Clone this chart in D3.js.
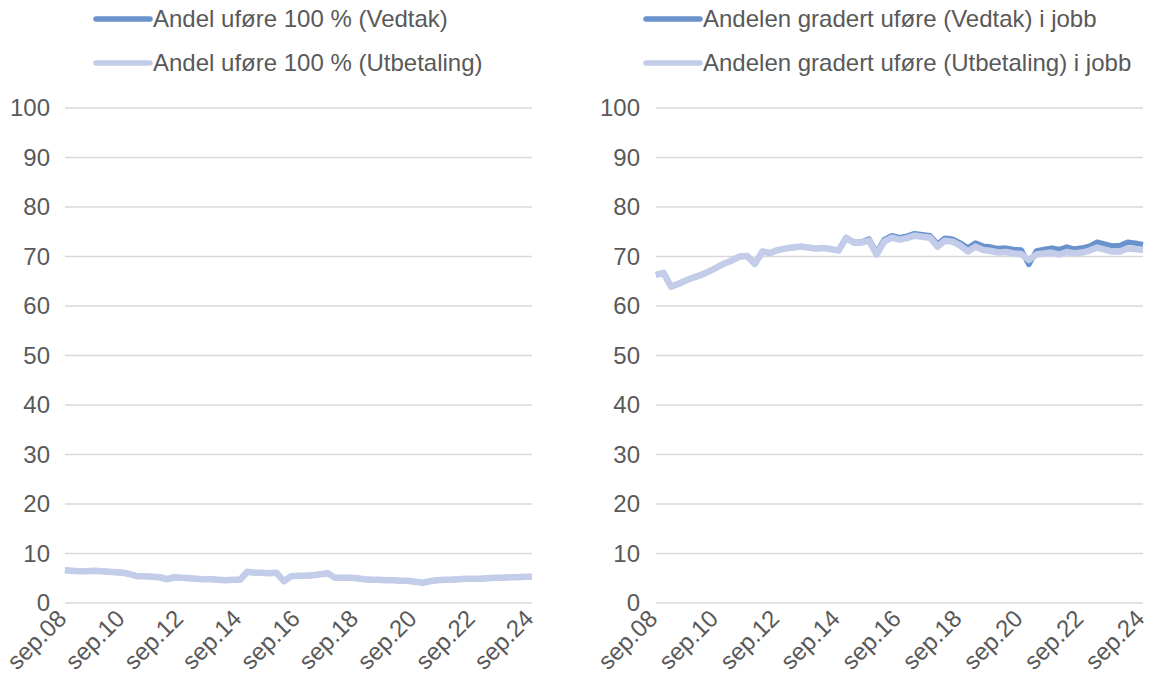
<!DOCTYPE html>
<html><head><meta charset="utf-8">
<script src="https://cdn.jsdelivr.net/npm/d3@7"></script>
<style>body{margin:0;background:#fff}svg{display:block}text{font-family:"Liberation Sans",Arial,sans-serif;fill:#595959}</style>
</head><body><svg id="c" width="1149" height="684"></svg>
<script>
// quarterly observations, sep.08 .. sep.24
const startDate = new Date(2008, 8, 1);
const endDate = new Date(2024, 8, 1);
const tickLabels = ["sep.08","sep.10","sep.12","sep.14","sep.16","sep.18","sep.20","sep.22","sep.24"];
const yTicks = [0,10,20,30,40,50,60,70,80,90,100];

const leftNames = ["Andel uføre 100 % (Vedtak)", "Andel uføre 100 % (Utbetaling)"];
const rightNames = ["Andelen gradert uføre (Vedtak) i jobb", "Andelen gradert uføre (Utbetaling) i jobb"];

const leftVedtak = [6.6,6.5, 6.4,6.4,6.5,6.4, 6.3,6.2,6.1,5.8, 5.4,5.4,5.3,5.2, 4.8,5.2,5.1,5.0,
  4.9,4.8,4.8,4.7, 4.6,4.7,4.7,6.3, 6.1,6.1,6.0,6.1, 4.4,5.4,5.5,5.5, 5.6,5.8,6.0,5.1,
  5.1,5.1,5.0,4.8, 4.7,4.7,4.6,4.6, 4.5,4.5,4.3,4.1, 4.4,4.6,4.7,4.7, 4.8,4.9,4.9,4.9,
  5.0,5.1,5.1,5.2, 5.2,5.3,5.3];
const leftUtbetaling = [6.6,6.5, 6.4,6.4,6.5,6.4, 6.3,6.2,6.1,5.8, 5.4,5.4,5.3,5.2, 4.8,5.2,5.1,5.0,
  4.9,4.8,4.8,4.7, 4.6,4.7,4.7,6.3, 6.1,6.1,6.0,6.1, 4.4,5.4,5.5,5.5, 5.6,5.8,6.0,5.1,
  5.1,5.1,5.0,4.8, 4.7,4.7,4.6,4.6, 4.5,4.5,4.3,4.1, 4.4,4.6,4.7,4.7, 4.8,4.9,4.9,4.9,
  5.0,5.1,5.1,5.2, 5.2,5.3,5.3];
const rightVedtak = [66.3,66.7, 63.9,64.5,65.2,65.8, 66.3,67.0,67.8,68.6, 69.2,70.0,70.1,68.5,
  71.0,70.7,71.3,71.6, 71.8,72.0,71.8,71.6, 71.7,71.5,71.2,73.8, 72.9,72.9,73.5,70.8,
  73.4,74.2,73.8,74.1, 74.6,74.4,74.2,72.5, 73.7,73.5,72.7,71.7, 72.7,72.1,71.9,71.6,
  71.7,71.4,71.3,68.4, 71.1,71.4,71.7,71.4, 71.9,71.5,71.7,72.1, 72.9,72.5,72.1,72.2,
  72.9,72.7,72.4];
const rightUtbetaling = [66.3,66.7, 63.9,64.5,65.2,65.8, 66.3,67.0,67.8,68.6, 69.2,70.0,70.1,68.5,
  71.0,70.7,71.3,71.6, 71.8,72.0,71.8,71.6, 71.7,71.5,71.2,73.8, 72.8,72.8,73.2,70.4,
  73.0,73.8,73.4,73.7, 74.2,74.0,73.8,72.0, 73.2,73.0,72.2,71.0, 72.0,71.3,71.1,70.8,
  70.9,70.6,70.5,69.3, 70.4,70.6,70.8,70.4, 70.9,70.6,70.8,71.2, 71.8,71.4,71.0,71.0,
  71.6,71.5,71.3];

const dates = d3.timeMonth.range(startDate, d3.timeMonth.offset(endDate, 1), 3);
const tickDates = d3.timeYear.every(2).range(new Date(2008,0,1), new Date(2025,0,1)).map(d => new Date(d.getFullYear(), 8, 1));

const colV = "#6A93CD", colU = "#C3CDEA";
const FS = 24;
const svg = d3.select("#c");

function panel(x0, x1, labelX, legX, names, vedtak, utbet) {
  const x = d3.scaleTime().domain([startDate, endDate]).range([x0, x1]);
  const y = d3.scaleLinear().domain([0, 100]).range([603, 108]);
  const g = svg.append("g");
  g.append("g").selectAll("line").data(yTicks).join("line")
    .attr("x1", x0).attr("x2", x1).attr("y1", d => y(d)).attr("y2", d => y(d))
    .attr("stroke", "#d9d9d9").attr("stroke-width", 1.3);
  g.append("g").selectAll("text").data(yTicks).join("text")
    .attr("x", labelX).attr("y", d => y(d)).attr("dy", "0.35em")
    .attr("text-anchor", "end").attr("font-size", FS).text(d => d);
  g.append("g").selectAll("text").data(tickDates).join("text")
    .attr("transform", d => `translate(${x(d)-3},${614}) rotate(-45)`)
    .attr("text-anchor", "end").attr("dy", "0.35em").attr("font-size", FS)
    .text((d, i) => tickLabels[i]);
  const line = d3.line().x((d, i) => x(dates[i])).y(d => y(d)).curve(d3.curveLinear);
  g.append("path").datum(vedtak).attr("d", line).attr("fill", "none")
    .attr("stroke", colV).attr("stroke-width", 5.5).attr("stroke-linejoin", "round");
  g.append("path").datum(utbet).attr("d", line).attr("fill", "none")
    .attr("stroke", colU).attr("stroke-width", 6.5).attr("stroke-linejoin", "round");
  const leg = g.append("g");
  [colV, colU].forEach((c, i) => {
    const ly = 19 + i * 44;
    leg.append("line").attr("x1", legX).attr("x2", legX + 54).attr("y1", ly).attr("y2", ly)
      .attr("stroke", c).attr("stroke-width", 5.5).attr("stroke-linecap", "round");
    leg.append("text").attr("x", legX + 57).attr("y", ly).attr("dy", "0.35em")
      .attr("font-size", FS).text(names[i]);
  });
}
panel(65, 532, 50, 96, leftNames, leftVedtak, leftUtbetaling);
panel(656, 1143, 640, 646, rightNames, rightVedtak, rightUtbetaling);
</script></body></html>
